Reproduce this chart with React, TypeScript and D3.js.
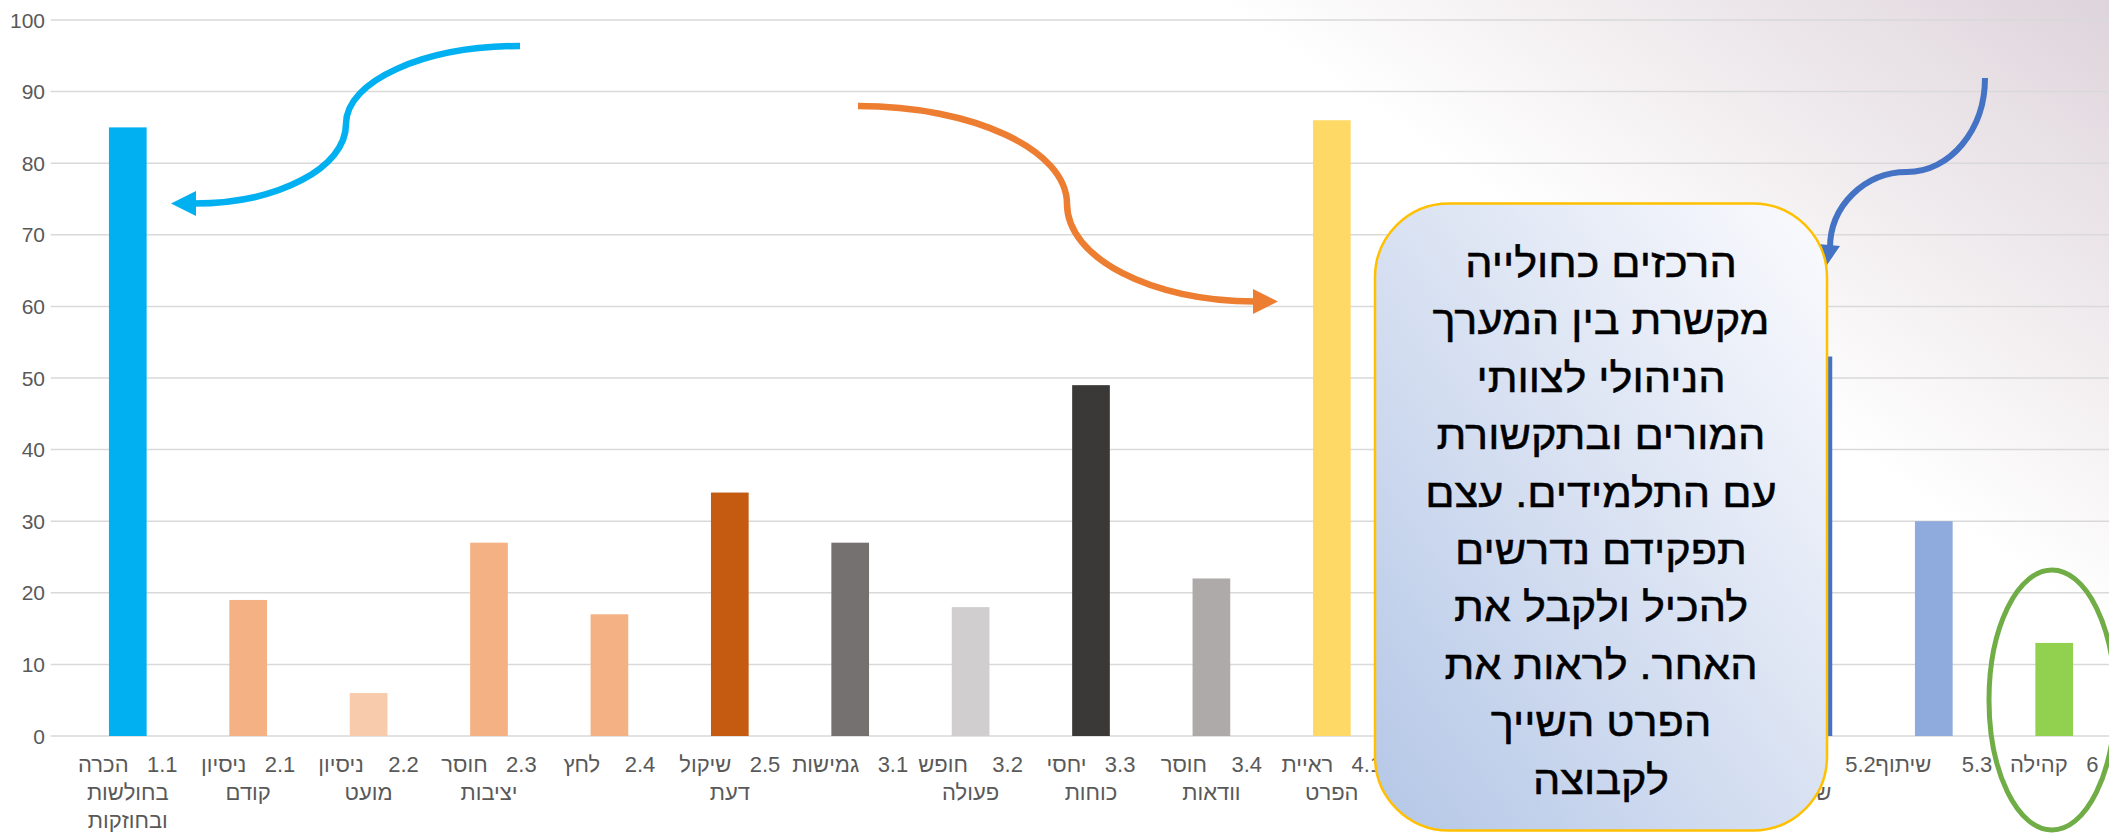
import React from 'react';
import * as d3 from 'd3';

// ---------- data ----------
const categories = ['1.1', '2.1', '2.2', '2.3', '2.4', '2.5', '3.1', '3.2', '3.3', '3.4', '4.1', '4.2', '4.3', '5.1', '5.2', '5.3', '6'];
// labels of 4.2, 4.3, 5.1 are hidden behind the text box in the reference
const labelLines: string[][] = [
  ['1.1\u00A0\u00A0 הכרה', 'בחולשות', 'ובחוזקות'],
  ['2.1\u00A0\u00A0 ניסיון', 'קודם'],
  ['2.2\u00A0\u00A0\u00A0 ניסיון', 'מועט'],
  ['2.3\u00A0\u00A0 חוסר', 'יציבות'],
  ['2.4\u00A0\u00A0\u00A0 לחץ'],
  ['2.5\u00A0\u00A0 שיקול', 'דעת'],
  ['3.1\u00A0\u00A0 גמישות'],
  ['3.2\u00A0\u00A0\u00A0 חופש', 'פעולה'],
  ['3.3\u00A0\u00A0 יחסי', 'כוחות'],
  ['3.4\u00A0\u00A0\u00A0 חוסר', 'וודאות'],
  ['4.1\u00A0\u00A0 ראיית', 'הפרט'],
  [],
  [],
  [],
  ['5.2\u00A0\u00A0 תקשורת', 'שיח'],
  ['5.3\u00A0\u00A0\u00A0\u00A0 שיתוף'],
  ['6\u00A0\u00A0 קהילה'],
];
const values = [85, 19, 6, 27, 17, 34, 27, 18, 49, 22, 86, 40, 35, 62, 53, 30, 13];
const barColors = ['#00B0F0', '#F4B183', '#F8CBAD', '#F4B183', '#F4B183', '#C55A11', '#767171', '#D0CECE', '#3B3838', '#AEAAAA', '#FFD966', '#FFE699', '#BF9000', '#2F5597', '#4472C4', '#8FAADC', '#92D050'];
const yTicks = [0, 10, 20, 30, 40, 50, 60, 70, 80, 90, 100];
const boxLines = [
  'הרכזים כחולייה',
  'מקשרת בין המערך',
  'הניהולי לצוותי',
  'המורים ובתקשורת',
  'עם התלמידים. עצם',
  'תפקידם נדרשים',
  'להכיל ולקבל את',
  'האחר. לראות את',
  'הפרט השייך',
  'לקבוצה',
];

const W = 2109;
const H = 833;
const FONT = "'Liberation Sans', 'DejaVu Sans', Arial, sans-serif";

function sCurve(x0: number, y0: number, xm: number, ym: number, x1: number, y1: number, firstHoriz: boolean) {
  const k = 0.5523;
  const p = d3.path();
  p.moveTo(x0, y0);
  if (firstHoriz) {
    p.bezierCurveTo(x0 + (xm - x0) * k, y0, xm, ym - (ym - y0) * k, xm, ym);
    p.bezierCurveTo(xm, ym + (y1 - ym) * k, x1 - (x1 - xm) * k, y1, x1, y1);
  } else {
    p.bezierCurveTo(x0, y0 + (ym - y0) * k, xm + (x0 - xm) * k, ym, xm, ym);
    p.bezierCurveTo(xm - (xm - x1) * k, ym, x1, y1 - (y1 - ym) * k, x1, y1);
  }
  return p.toString();
}

export default function App() {
  const x = d3
    .scaleBand<string>()
    .domain(categories)
    .range([67.6, 2114.4])
    .paddingInner(0.687)
    .paddingOuter(0.3435);
  const y = d3.scaleLinear().domain([0, 100]).range([736, 20]);
  const bw = x.bandwidth();

  const gridX0 = 50.7;
  const boxCx = 1601;

  return (
    <svg
      width={W}
      height={H}
      viewBox={`0 0 ${W} ${H}`}
      style={{ position: 'absolute', left: 0, top: 0, display: 'block' }}
      fontFamily={FONT}
    >
      <defs>
        <linearGradient id="bg" gradientUnits="userSpaceOnUse" x1={1810} y1={422} x2={2109} y2={0}>
          <stop offset="0" stopColor="#FFFFFF" />
          <stop offset="0.4" stopColor="#F2EEF0" />
          <stop offset="1" stopColor="#DED4DB" />
        </linearGradient>
        <linearGradient id="boxg" x1="0" y1="1" x2="1" y2="0">
          <stop offset="0" stopColor="#B4C7E7" />
          <stop offset="0.55" stopColor="#DCE4F3" />
          <stop offset="1" stopColor="#FBFBFE" />
        </linearGradient>
      </defs>
      <rect x={0} y={0} width={W} height={H} fill="#FFFFFF" />
      <rect x={0} y={0} width={W} height={H} fill="url(#bg)" />

      {/* gridlines */}
      {yTicks.map((t) => (
        <line key={'g' + t} x1={gridX0} x2={W} y1={y(t)} y2={y(t)} stroke="#D9D9D9" strokeWidth={1.5} />
      ))}
      {/* y tick labels */}
      {yTicks.map((t) => (
        <text key={'t' + t} x={45} y={y(t) + 7.5} textAnchor="end" fontSize={21} fill="#595959">
          {t}
        </text>
      ))}

      {/* bars */}
      {categories.map((c, i) => (
        <rect key={'b' + c} x={x(c)!} y={y(values[i])} width={bw} height={y(0) - y(values[i])} fill={barColors[i]} />
      ))}

      {/* category labels */}
      {categories.map((c, i) => {
        const cx = x(c)! + bw / 2;
        if (!labelLines[i].length) return null;
        return (
          <text key={'l' + c} direction="rtl" textAnchor="middle" fontSize={22} fill="#595959" style={{ whiteSpace: 'pre' }}>
            {labelLines[i].map((ln, j) => (
              <tspan key={j} x={cx} y={772 + j * 28}>
                {ln}
              </tspan>
            ))}
          </text>
        );
      })}

      {/* cyan arrow */}
      <path d={sCurve(520, 46, 346, 124, 194, 203.5, true)} fill="none" stroke="#00B0F0" strokeWidth={6.5} />
      <polygon points="171,203.5 196,191 196,216" fill="#00B0F0" />

      {/* orange arrow */}
      <path d={sCurve(858, 106, 1067, 204, 1255, 301.5, true)} fill="none" stroke="#ED7D31" strokeWidth={6.5} />
      <polygon points="1278,301.5 1253,289 1253,314" fill="#ED7D31" />

      {/* blue arrow */}
      <path d={sCurve(1985, 78, 1907, 172, 1830, 248, false)} fill="none" stroke="#4472C4" strokeWidth={6} />
      <polygon points="1818,244 1840,246 1827,265" fill="#4472C4" />

      {/* text box */}
      <rect x={1375} y={203.5} width={452} height={627} rx={74} ry={74} fill="url(#boxg)" stroke="#FFC000" strokeWidth={2.5} />
      <g transform={`translate(${boxCx},0) scale(1.08,1) translate(${-boxCx},0)`}>
        {boxLines.map((ln, i) => (
          <text
            key={'bx' + i}
            x={boxCx}
            y={277 + i * 57.4}
            direction="rtl"
            textAnchor="middle"
            fontSize={40}
            fill="#000000"
            stroke="#000000"
            strokeWidth={0.5}
          >
            {ln}
          </text>
        ))}
      </g>

      {/* green ellipse */}
      <ellipse cx={2052} cy={700} rx={63} ry={130} fill="none" stroke="#70AD47" strokeWidth={5} />
    </svg>
  );
}
